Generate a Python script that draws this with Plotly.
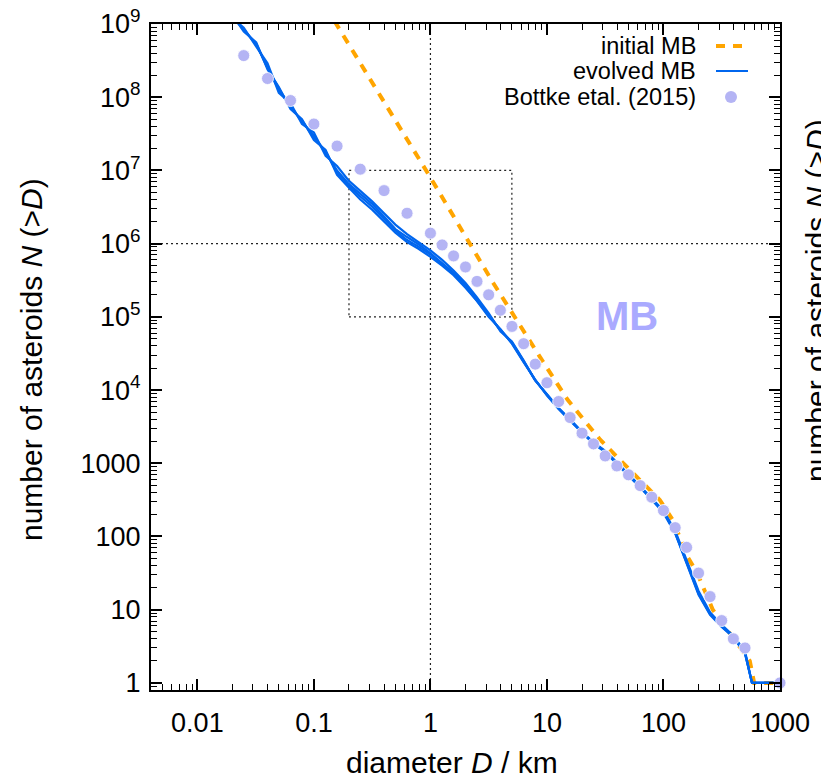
import plotly.graph_objects as go

# ---------------- data ----------------
# evolved main belt: several model realisations (cumulative N(>D))
D_evolved = [0.02, 0.025, 0.032, 0.04, 0.05, 0.063, 0.079, 0.1, 0.126, 0.158,
             0.2, 0.25, 0.316, 0.4, 0.5, 0.63, 0.79, 1, 1.26, 1.58,
             2, 2.5, 3.16, 4, 5, 6.3, 7.9, 10, 12.6, 15.8,
             20, 25, 31.6, 40, 50, 63, 79, 100, 126, 158,
             200, 251, 316, 398, 501, 575, 1000]
N_run1 = [1.26e9, 8.5e8, 5.2e8, 2.6e8, 1.26e8, 7.6e7, 4.6e7, 3.0e7, 1.74e7, 1.0e7,
          6.5e6, 4.8e6, 3.5e6, 2.34e6, 1.58e6, 1.23e6, 9.8e5, 7.4e5, 5.5e5, 4.0e5,
          2.7e5, 1.74e5, 1.07e5, 6.6e4, 4.5e4, 2.5e4, 1.38e4, 8700, 5600, 3900,
          2630, 1900, 1450, 1000, 690, 480, 330, 220, 115, 45,
          17, 8.9, 6.0, 4.3, 2.6, 1, 1]
N_run2 = [1.32e9, 7.9e8, 5.6e8, 2.4e8, 1.38e8, 6.9e7, 5.0e7, 2.6e7, 1.9e7, 8.7e6,
          5.8e6, 4.0e6, 2.9e6, 2.0e6, 1.41e6, 1.05e6, 8.5e5, 6.6e5, 5.0e5, 3.7e5,
          2.5e5, 1.66e5, 1.0e5, 6.8e4, 4.3e4, 2.4e4, 1.4e4, 8400, 5500, 3800,
          2600, 1850, 1420, 980, 680, 470, 320, 210, 110, 42,
          16, 8.5, 5.8, 4.2, 2.5, 1, 1]
N_run3 = [1.2e9, 8.9e8, 4.9e8, 2.9e8, 1.15e8, 8.3e7, 4.3e7, 3.3e7, 1.58e7, 1.15e7,
          7.2e6, 5.2e6, 3.8e6, 2.6e6, 1.82e6, 1.35e6, 1.05e6, 8.1e5, 6.0e5, 4.3e5,
          2.9e5, 1.86e5, 1.12e5, 6.3e4, 4.6e4, 2.55e4, 1.36e4, 8900, 5700, 4000,
          2700, 1950, 1480, 1020, 700, 490, 335, 225, 120, 47,
          18, 9.2, 6.2, 4.4, 2.7, 1, 1]
N_run4 = [1.29e9, 8.3e8, 5.4e8, 2.5e8, 1.32e8, 7.2e7, 4.8e7, 2.8e7, 1.82e7, 9.5e6,
          6.2e6, 4.4e6, 3.2e6, 2.2e6, 1.51e6, 1.12e6, 9.1e5, 7.1e5, 5.2e5, 3.9e5,
          2.6e5, 1.7e5, 1.05e5, 6.5e4, 4.4e4, 2.45e4, 1.38e4, 8600, 5550, 3850,
          2620, 1880, 1440, 990, 690, 475, 328, 218, 112, 44,
          16.5, 8.7, 5.9, 4.25, 2.55, 1, 1]
evolved_runs = [N_run1, N_run2, N_run3, N_run4]

# initial main belt
D_initial = [0.15, 1, 3.46, 5, 8.75, 15, 28.6, 59, 93, 120, 162, 194, 265, 550, 600, 1000]
N_initial = [1.1e9, 8.0e6, 2.9e5, 1.13e5, 2.8e4, 7.4e3, 2.1e3, 650, 316, 168, 52, 32, 10, 2, 1, 1]

# Bottke et al. (2015)
D_bottke = [0.025, 0.04, 0.063, 0.1, 0.158, 0.25, 0.4, 0.63, 1, 1.26,
            1.58, 2, 2.51, 3.16, 3.98, 5.01, 6.31, 7.94, 10, 12.6,
            15.8, 20, 25.1, 31.6, 39.8, 50.1, 63.1, 79.4, 100, 126,
            158, 200, 251, 316, 398, 501, 1000]
N_bottke = [3.7e8, 1.8e8, 9.0e7, 4.3e7, 2.15e7, 1.04e7, 5.3e6, 2.6e6, 1.39e6, 9.6e5,
            6.8e5, 4.8e5, 3.05e5, 2.0e5, 1.23e5, 7.4e4, 4.3e4, 2.26e4, 1.26e4, 6970,
            4210, 2580, 1840, 1260, 920, 695, 495, 344, 226, 132,
            71, 31.6, 15.1, 7.1, 4.0, 3.0, 1]

# guide lines / box
D_guide_box = [0.2, 5, 5, 0.2, 0.2]
N_guide_box = [1e5, 1e5, 1e7, 1e7, 1e5]

x_tickvals = [0.01, 0.1, 1, 10, 100, 1000]
x_ticktext = ["0.01", "0.1", "1", "10", "100", "1000"]
y_tickvals = [1, 10, 100, 1000, 1e4, 1e5, 1e6, 1e7, 1e8, 1e9]
y_ticktext = ["1", "10", "100", "1000", "10<sup>4</sup>", "10<sup>5</sup>",
              "10<sup>6</sup>", "10<sup>7</sup>", "10<sup>8</sup>", "10<sup>9</sup>"]

# ---------------- styling ----------------
FONT = "Liberation Sans, Arial, sans-serif"
ORANGE = "#ffa500"
BLUE = "#0066ee"
LAV = "#b4b4f4"
W, H = 821, 781
ML, MR, MT, MB_ = 151, 41, 24, 91
PW, PH = W - ML - MR, H - MT - MB_


def px(xp):
    return (xp - ML) / PW


def py(yp):
    return (H - MB_ - yp) / PH


fig = go.Figure()

dot_style = dict(color="#222", width=1.2, dash="2px,3px")
fig.add_trace(go.Scatter(x=[1, 1], y=[0.8, 1e9], mode="lines", line=dot_style,
                         showlegend=False, hoverinfo="skip"))
fig.add_trace(go.Scatter(x=[0.004, 1000], y=[1e6, 1e6], mode="lines", line=dot_style,
                         showlegend=False, hoverinfo="skip"))
fig.add_trace(go.Scatter(x=D_guide_box, y=N_guide_box, mode="lines", line=dot_style,
                         showlegend=False, hoverinfo="skip"))

fig.add_trace(go.Scatter(x=D_initial, y=N_initial, mode="lines", name="initial MB",
                         line=dict(color=ORANGE, width=4, dash="9px,8px"),
                         showlegend=False))
for run in evolved_runs:
    fig.add_trace(go.Scatter(x=D_evolved, y=run, mode="lines", name="evolved MB",
                             line=dict(color=BLUE, width=2.2), showlegend=False))
fig.add_trace(go.Scatter(x=D_bottke, y=N_bottke, mode="markers", name="Bottke etal. (2015)",
                         marker=dict(color=LAV, size=12, line=dict(color="white", width=0.8)),
                         showlegend=False, cliponaxis=False))

axis_common = dict(type="log", showline=True, linecolor="black", linewidth=2,
                   mirror="allticks", ticks="inside", ticklen=11, tickwidth=1.5,
                   tickcolor="black", showgrid=False, zeroline=False, automargin=False,
                   tickfont=dict(family=FONT, size=27, color="black"),
                   minor=dict(ticks="inside", ticklen=6, tickwidth=1.2,
                              tickcolor="black", dtick="D1", showgrid=False))

fig.update_xaxes(range=[-2.398, 3], tickvals=x_tickvals, ticktext=x_ticktext,
                 ticklabelstandoff=8, **axis_common)
fig.update_yaxes(range=[-0.0969, 9], tickvals=y_tickvals, ticktext=y_ticktext,
                 ticklabelstandoff=3, **axis_common)

annotations = [
    dict(x=px(32), y=py(360), xref="paper", yref="paper", textangle=-90,
         xanchor="center", yanchor="middle",
         text="number of asteroids <i>N</i> (&gt;<i>D</i>)", showarrow=False,
         font=dict(family=FONT, size=30, color="black")),
    dict(x=px(452), y=py(762), xref="paper", yref="paper",
         xanchor="center", yanchor="middle",
         text="diameter <i>D</i> / km", showarrow=False,
         font=dict(family=FONT, size=30, color="black")),
    dict(x=px(627), y=py(316), xref="paper", yref="paper",
         xanchor="center", yanchor="middle",
         text="<b>MB</b>", showarrow=False,
         font=dict(family=FONT, size=40, color="#aaaaff")),
    dict(x=px(816), y=py(300), xref="paper", yref="paper", textangle=-90,
         xanchor="center", yanchor="middle",
         text="number of asteroids <i>N</i> (&gt;<i>D</i>)", showarrow=False,
         font=dict(family=FONT, size=30, color="black")),
]
legend_items = [("initial MB", 46), ("evolved MB", 71), ("Bottke etal. (2015)", 97)]
for label, ypix in legend_items:
    annotations.append(dict(x=px(698), y=py(ypix), xref="paper", yref="paper",
                            xanchor="right", yanchor="middle", text=label,
                            showarrow=False,
                            font=dict(family=FONT, size=23.5, color="black")))

shapes = [
    dict(type="line", xref="paper", yref="paper", x0=px(716), x1=px(748),
         y0=py(46), y1=py(46), line=dict(color=ORANGE, width=4, dash="9px,8px")),
    dict(type="line", xref="paper", yref="paper", x0=px(716), x1=px(748),
         y0=py(71), y1=py(71), line=dict(color=BLUE, width=2)),
    dict(type="circle", xref="paper", yref="paper", x0=px(725), x1=px(737),
         y0=py(103), y1=py(91), fillcolor=LAV, line=dict(color=LAV, width=0)),
]

fig.update_layout(width=W, height=H, margin=dict(l=ML, r=MR, t=MT, b=MB_),
                  plot_bgcolor="white", paper_bgcolor="white",
                  annotations=annotations, shapes=shapes, showlegend=False)

fig.write_html("out.html", config={"displayModeBar": False},
               post_script="document.body.style.margin='0';"
                           "document.body.style.overflow='hidden';")
